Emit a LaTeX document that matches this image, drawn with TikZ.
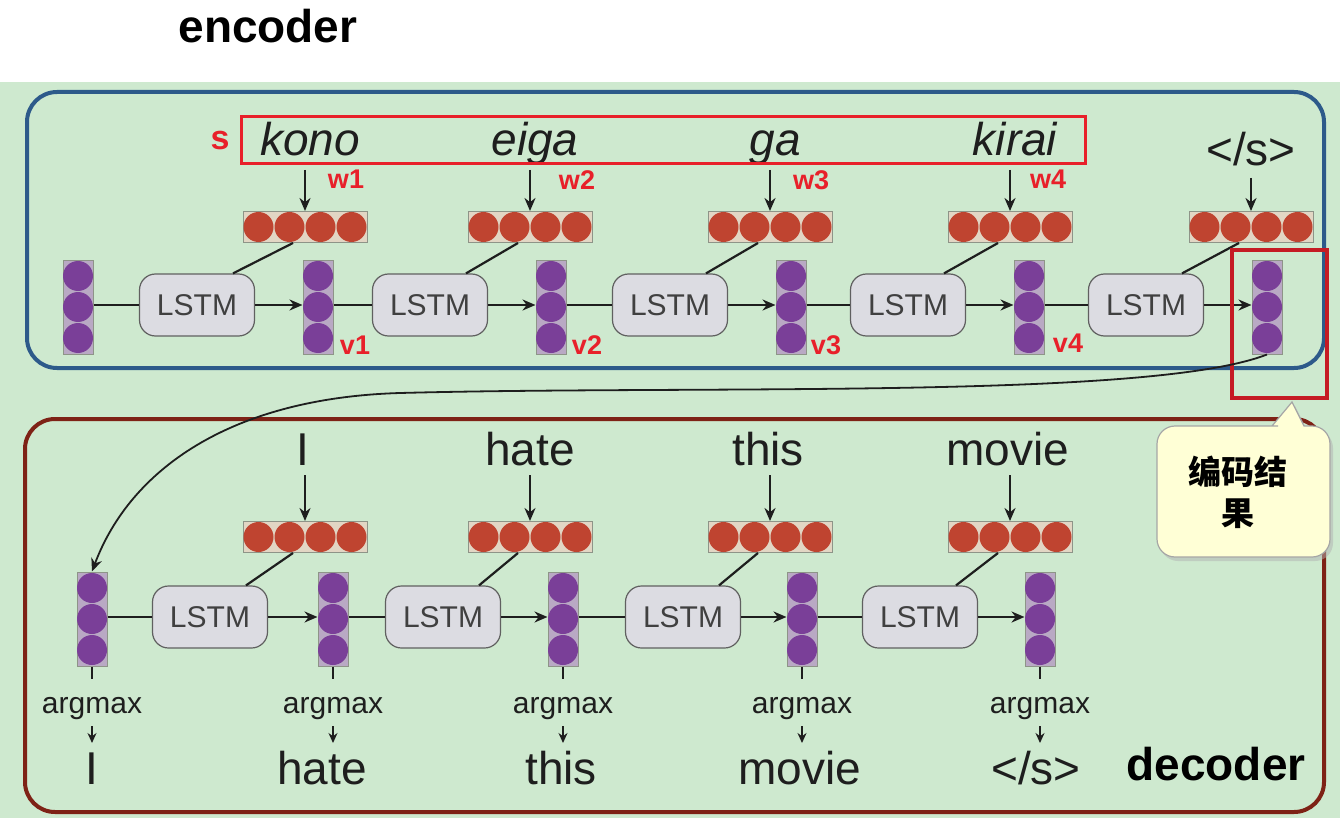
\documentclass[tikz,border=0pt]{standalone}
\usepackage{fontspec}
\setmainfont{Liberation Sans}
\newfontfamily\cjk{Noto Sans CJK SC}
\usetikzlibrary{arrows.meta,shadows,calc}
\definecolor{bg}{HTML}{CEE9CF}
\definecolor{encblue}{HTML}{2D5A8A}
\definecolor{decred}{HTML}{7E2216}
\definecolor{markred}{HTML}{E8202A}
\definecolor{embred}{HTML}{BF4430}
\definecolor{hidpurple}{HTML}{7A3F98}
\definecolor{boxgray}{HTML}{8E9488}
\definecolor{embfill}{HTML}{E2D6C4}
\definecolor{hidfill}{HTML}{B9A9C4}
\definecolor{lstmfill}{HTML}{DCDCE2}
\definecolor{txt}{HTML}{1E1E1E}
\definecolor{callfill}{HTML}{FFFFD6}
\newcommand\eostok{</s>}
\newcommand\embv[3]{%
  \node[embbox] (#1) at (#2,#3) {};
  \foreach \dx in {-46.5,-15.5,15.5,46.5}{\fill[embred] (#2+\dx,#3) circle (15pt);}}
\newcommand\hidv[3]{%
  \node[hidbox] (#1) at (#2,#3) {};
  \foreach \dy in {-31,0,31}{\fill[hidpurple] (#2,#3+\dy) circle (15pt);}}
\begin{document}
\begin{tikzpicture}[x=1pt,y=-1pt,
  arr/.style={-{Stealth[length=13pt,width=11pt]}, line width=2.2pt, draw=txt},
  link/.style={line width=2.2pt, draw=txt},
  lstm/.style={draw=gray!75!black, fill=lstmfill, rounded corners=16pt, minimum width=115pt, minimum height=62pt, line width=1.2pt, inner sep=0pt, text=txt!85, font=\fontsize{30}{30}\selectfont},
  embbox/.style={draw=boxgray, fill=embfill, minimum width=124pt, minimum height=31pt, inner sep=0pt, line width=1pt},
  hidbox/.style={draw=boxgray, fill=hidfill, minimum width=30pt, minimum height=94pt, inner sep=0pt, line width=1pt},
  encword/.style={anchor=base, inner sep=0pt, text=txt, font=\fontsize{46}{50}\selectfont\itshape},
  word/.style={anchor=base, inner sep=0pt, text=txt, font=\fontsize{46}{50}\selectfont},
  amax/.style={anchor=base, inner sep=0pt, text=txt, font=\fontsize{30}{32}\selectfont},
  redlab/.style={anchor=base, inner sep=0pt, text=markred, font=\fontsize{27}{30}\selectfont\bfseries},
  small/.style={-{Stealth[length=10pt,width=9pt]}, line width=1.4pt, draw=txt},
  title/.style={anchor=base, inner sep=0pt, text=black, font=\fontsize{46}{50}\selectfont\bfseries}
]
\useasboundingbox (0,0) rectangle (1340,818);
\fill[white] (0,0) rectangle (1340,818);
\fill[bg] (0,82) rectangle (1340,818);

% title
\node[title] (enclabel) at (268,43) {encoder};

% frames
\draw[encblue, line width=4pt, rounded corners=30pt] (27,92) rectangle (1324,368);
\draw[decred, line width=4pt, rounded corners=30pt] (25,419) rectangle (1324,812);

% ---------------- encoder ----------------
\node[encword] (k1) at (310,156) {kono};
\node[encword] (k2) at (535,156) {eiga};
\node[encword] (k3) at (775,156) {ga};
\node[encword] (k4) at (1015,156) {kirai};
\node[word] (k5) at (1251,166) {\eostok};

\draw[markred, line width=3pt] (241,117) rectangle (1085,164);
\node[redlab, font=\fontsize{34}{36}\selectfont\bfseries] (slab) at (220,150) {s};

\embv{e1}{305}{227}
\embv{e2}{530}{227}
\embv{e3}{770}{227}
\embv{e4}{1010}{227}
\embv{e5}{1251}{227}

\coordinate (a1) at (305,170);
\coordinate (a2) at (530,170);
\coordinate (a3) at (770,170);
\coordinate (a4) at (1010,170);
\coordinate (a5) at (1251,178);
\foreach \i in {1,...,5}{\draw[arr] (a\i) -- (e\i.north);}

\node[redlab] (w1) at (346,189) {w1};
\node[redlab] (w2) at (577,190) {w2};
\node[redlab] (w3) at (811,190) {w3};
\node[redlab] (w4) at (1048,189) {w4};

\hidv{h0}{78}{307}
\hidv{h1}{318}{307}
\hidv{h2}{551}{307}
\hidv{h3}{791}{307}
\hidv{h4}{1029}{307}
\hidv{h5}{1267}{307}

\node[lstm] (l1) at (197,305) {LSTM};
\node[lstm] (l2) at (430,305) {LSTM};
\node[lstm] (l3) at (670,305) {LSTM};
\node[lstm] (l4) at (908,305) {LSTM};
\node[lstm] (l5) at (1146,305) {LSTM};

\foreach \i [evaluate=\i as \j using int(\i-1)] in {1,...,5}{
  \draw[link] (h\j.east |- l\i.west) -- (l\i.west);
  \draw[arr] (l\i.east) -- (h\i.west |- l\i.east);
  \draw[link] ($(e\i.south)+(-12,0)$) -- ($(l\i.north)+(36,0)$);
}

\node[redlab] (v1) at (355,354) {v1};
\node[redlab] (v2) at (587,354) {v2};
\node[redlab] (v3) at (826,354) {v3};
\node[redlab] (v4) at (1068,352) {v4};

\draw[markred!85!black, line width=4pt] (1232,250) rectangle (1327,398);

% ---------------- decoder ----------------
\node[word] (t1) at (303,465) {I};
\node[word] (t2) at (530,465) {hate};
\node[word] (t3) at (768,465) {this};
\node[word] (t4) at (1008,465) {movie};

\embv{f1}{305}{537}
\embv{f2}{530}{537}
\embv{f3}{770}{537}
\embv{f4}{1010}{537}

\coordinate (b1) at (305,475);
\coordinate (b2) at (530,475);
\coordinate (b3) at (770,475);
\coordinate (b4) at (1010,475);
\foreach \i in {1,...,4}{\draw[arr] (b\i) -- (f\i.north);}

\hidv{d0}{92}{619}
\hidv{d1}{333}{619}
\hidv{d2}{563}{619}
\hidv{d3}{802}{619}
\hidv{d4}{1040}{619}

\node[lstm] (m1) at (210,617) {LSTM};
\node[lstm] (m2) at (443,617) {LSTM};
\node[lstm] (m3) at (683,617) {LSTM};
\node[lstm] (m4) at (920,617) {LSTM};

\foreach \i [evaluate=\i as \j using int(\i-1)] in {1,...,4}{
  \draw[link] (d\j.east |- m\i.west) -- (m\i.west);
  \draw[arr] (m\i.east) -- (d\i.west |- m\i.east);
  \draw[link] ($(f\i.south)+(-12,0)$) -- ($(m\i.north)+(36,0)$);
}

% outputs
\foreach \i/\x/\wx/\w in {0/92/92/I,1/333/322/hate,2/563/561/this,3/802/800/movie,4/1040/1036/\eostok}{
  \coordinate (tk\i) at (\x,679);
  \draw[line width=1.6pt, txt] (d\i.south) -- (tk\i);
  \node[amax] (am\i) at (\x,713) {argmax};
  \coordinate (sa\i) at (\x,726);
  \coordinate (se\i) at (\x,743);
  \node[word] (o\i) at (\wx,784) {\w};
  \draw[small] (sa\i) -- (se\i);
}

% encoder result to decoder
\draw[arr, line width=1.8pt] (h5.south) .. controls (1150,400) and (700,385) .. (400,393)
  .. controls (230,398) and (130,470) .. (d0.north);

% callout
\path[fill=callfill, draw=gray!70, line width=1.2pt,
  drop shadow={shadow xshift=3pt, shadow yshift=-4pt, fill=black!30}]
  (1272,426) -- (1292,402) -- (1304,426) -- (1310,426) [rounded corners=18pt] -- (1330,426)
  -- (1330,557) -- (1157,557) -- (1157,426) -- (1260,426) [sharp corners] -- cycle;
\node[inner sep=0pt, align=center, text=black, font=\cjk\bfseries\fontsize{33}{41}\selectfont] (call) at (1238,492) {编码结\\果};

% decoder label
\node[title] (declabel) at (1216,780) {decoder};
\end{tikzpicture}
\end{document}
